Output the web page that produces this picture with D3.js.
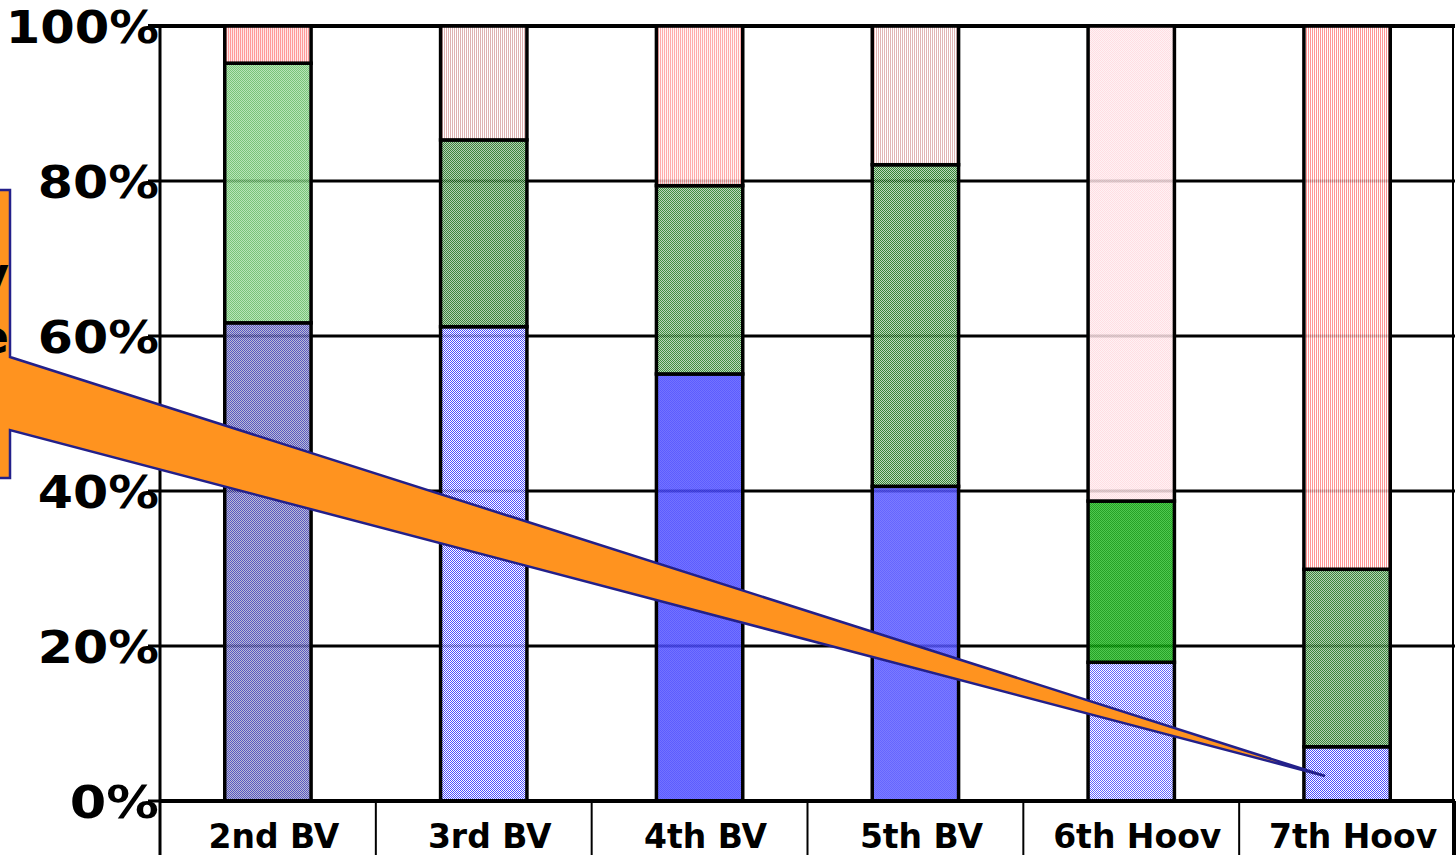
<!DOCTYPE html>
<html>
<head>
<meta charset="utf-8">
<script src="https://cdn.jsdelivr.net/npm/d3@7/dist/d3.min.js"></script>
<style>
  html, body { margin: 0; padding: 0; background: #ffffff; }
  svg { display: block; }
</style>
</head>
<body>
<svg id="chart" width="1456" height="855"></svg>
<script>
// ---- data ----
const categories = ["2nd BV", "3rd BV", "4th BV", "5th BV", "6th Hoov", "7th Hoov"];
const seriesNames = ["blue", "green", "pink"];
const blueValues  = [61.7, 61.2, 55.1, 40.6, 17.9, 7.0];
const greenValues = [33.5, 24.1, 24.3, 41.5, 20.8, 22.9];
const pinkValues  = [4.8, 14.7, 20.6, 17.9, 61.3, 70.1];
const yTicks = [0, 20, 40, 60, 80, 100];
const yTickLabels = ["0%", "20%", "40%", "60%", "80%", "100%"];

// ---- styles (per bar, per series): [kind, colour A, colour B] ----
const blueStyles = [
  ["checker", "#3a3ab8", "#b0b0cc"],
  ["checker", "#3030ff", "#ffffff"],
  ["checker", "#4040ff", "#5a5aff"],
  ["checker", "#4a4aff", "#6464ff"],
  ["checker", "#4848ff", "#ffffff"],
  ["checker", "#2a2aff", "#ffffff"]
];
const greenStyles = [
  ["checker", "#60b860", "#ace0ac"],
  ["checker", "#1a6e1a", "#a8c8a8"],
  ["checker", "#1f7a1f", "#b0d0b0"],
  ["checker", "#156e15", "#b4d4b4"],
  ["checker", "#009000", "#30c030"],
  ["checker", "#187018", "#a8c8a8"]
];
const pinkStyles = [
  ["stripe", "#ff8888", "#ffe4e4"],
  ["stripe", "#d8a4a4", "#ffffff"],
  ["stripe", "#ff9c9c", "#fff4f4"],
  ["stripe", "#dca8a8", "#ffffff"],
  ["checker", "#ffd8de", "#fff0f2"],
  ["stripe", "#ff8484", "#ffffff"]
];

(function () {
const svg = d3.select("#chart");
const W = 1456, H = 855;
const mLeft = 160, mRight = 1455, mTop = 26, mBottom = 801;

const x = d3.scaleBand().domain(categories).range([mLeft, mRight]).paddingInner(0.6).paddingOuter(0.3);
const xOuter = d3.scaleBand().domain(categories).range([mLeft, mRight]).padding(0);
const y = d3.scaleLinear().domain([0, 100]).range([mBottom, mTop]);

// ---- patterns ----
const defs = svg.append("defs");
function makePattern(id, st) {
  const [kind, a, b] = st;
  const p = defs.append("pattern").attr("id", id).attr("patternUnits", "userSpaceOnUse")
    .attr("width", 2).attr("height", 2);
  p.append("rect").attr("width", 2).attr("height", 2).attr("fill", b);
  if (kind === "checker") {
    p.append("rect").attr("x", 0).attr("y", 0).attr("width", 1).attr("height", 1).attr("fill", a);
    p.append("rect").attr("x", 1).attr("y", 1).attr("width", 1).attr("height", 1).attr("fill", a);
  } else {
    p.append("rect").attr("x", 0).attr("y", 0).attr("width", 1).attr("height", 2).attr("fill", a);
  }
}
const styleSets = [blueStyles, greenStyles, pinkStyles];
categories.forEach((c, i) => {
  styleSets.forEach((set, s) => makePattern(`p${i}_${s}`, set[i]));
});

// ---- gridlines (under bars, visible through them) ----
svg.append("g").selectAll("line").data(yTicks).join("line")
  .attr("x1", mLeft - 12).attr("x2", mRight)
  .attr("y1", d => y(d)).attr("y2", d => y(d))
  .attr("stroke", "#000").attr("stroke-width", d => d === 100 ? 4 : 3);

// right border
svg.append("line").attr("x1", mRight - 2).attr("x2", mRight - 2).attr("y1", mTop).attr("y2", H)
  .attr("stroke", "#000").attr("stroke-width", 2);

// ---- stacked bars ----
const table = categories.map((c, i) => ({ cat: c, blue: blueValues[i], green: greenValues[i], pink: pinkValues[i] }));
const stacked = d3.stack().keys(seriesNames)(table);
const barsG = svg.append("g");
stacked.forEach((layer, s) => {
  barsG.append("g").selectAll("rect").data(layer).join("rect")
    .attr("x", d => x(d.data.cat))
    .attr("width", x.bandwidth())
    .attr("y", d => y(Math.min(d[1], 100)))
    .attr("height", d => y(d[0]) - y(Math.min(d[1], 100)))
    .attr("fill", (d, i) => `url(#p${i}_${s})`)
    .attr("fill-opacity", 0.85)
    .attr("stroke", "#000").attr("stroke-width", 3.5);
});

// ---- axes ----
svg.append("line").attr("x1", mLeft).attr("x2", mLeft).attr("y1", mTop - 2).attr("y2", H)
  .attr("stroke", "#000").attr("stroke-width", 3);
svg.append("line").attr("x1", mLeft).attr("x2", mRight).attr("y1", mBottom).attr("y2", mBottom)
  .attr("stroke", "#000").attr("stroke-width", 4);

const sepPositions = categories.map(c => xOuter(c)).concat([mRight]);
svg.append("g").selectAll("line").data(sepPositions.slice(1)).join("line")
  .attr("x1", d => d).attr("x2", d => d).attr("y1", mBottom).attr("y2", H)
  .attr("stroke", "#000").attr("stroke-width", 2);

svg.append("g").selectAll("text").data(categories).join("text")
  .attr("x", d => xOuter(d) + xOuter.bandwidth() / 2 + 6)
  .attr("y", 848)
  .attr("text-anchor", "middle")
  .attr("font-family", "'DejaVu Sans', Verdana, sans-serif")
  .attr("font-weight", "bold")
  .attr("font-size", 33)
  .attr("fill", "#000")
  .text(d => d);

// ---- callout ----
const calloutTip = [1325, 776];
const callout = d3.path();
callout.moveTo(-20, 190);
callout.lineTo(10, 190);
callout.lineTo(10, 357);
callout.lineTo(calloutTip[0], calloutTip[1]);
callout.lineTo(10, 430);
callout.lineTo(10, 478);
callout.lineTo(-20, 478);
callout.closePath();
svg.append("path").attr("d", callout.toString())
  .attr("fill", "#ff931f").attr("stroke", "#23208a").attr("stroke-width", 2.5)
  .attr("stroke-linejoin", "miter");

const calloutText = ["v", "e"];
svg.append("g").selectAll("text").data(calloutText).join("text")
  .attr("x", 9).attr("y", (d, i) => 290 + i * 63)
  .attr("text-anchor", "end")
  .attr("font-family", "'DejaVu Sans', Verdana, sans-serif")
  .attr("font-weight", "bold").attr("font-size", 46)
  .attr("fill", "#000").text(d => d);

// ---- y tick labels (Verdana-like proportions) ----
const fs = 45;
svg.append("g").selectAll("text").data(yTicks).join("text")
  .attr("x", 159)
  .attr("y", d => y(d) + 17)
  .attr("text-anchor", "end")
  .attr("font-family", "'DejaVu Sans', Verdana, sans-serif")
  .attr("font-weight", "bold")
  .attr("font-size", fs)
  .attr("textLength", (d, i) => fs * (0.711 * (yTickLabels[i].length - 1) + 1.27))
  .attr("lengthAdjust", "spacingAndGlyphs")
  .attr("fill", "#000")
  .text((d, i) => yTickLabels[i]);
})();
</script>
</body>
</html>
